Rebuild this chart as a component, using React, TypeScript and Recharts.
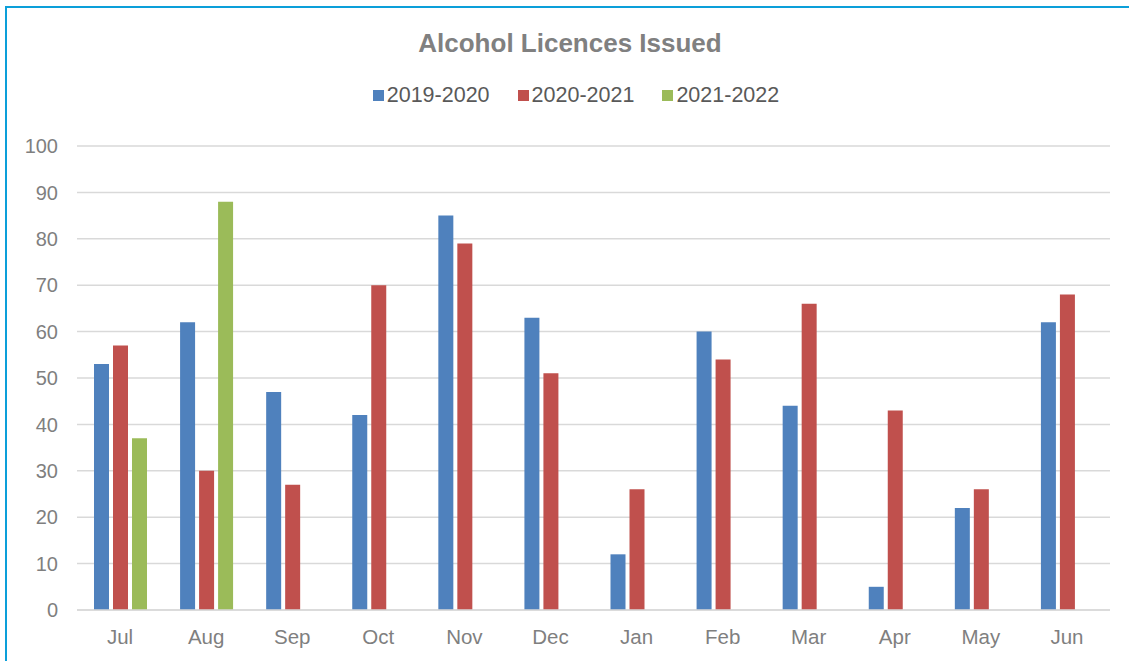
import { BarChart, Bar, XAxis, YAxis, CartesianGrid } from "recharts";

const months = ["Jul", "Aug", "Sep", "Oct", "Nov", "Dec", "Jan", "Feb", "Mar", "Apr", "May", "Jun"];
const y2019 = [53, 62, 47, 42, 85, 63, 12, 60, 44, 5, 22, 62];
const y2020 = [57, 30, 27, 70, 79, 51, 26, 54, 66, 43, 26, 68];
const y2021: (number | null)[] = [37, 88, null, null, null, null, null, null, null, null, null, null];
const yTicks = [0, 10, 20, 30, 40, 50, 60, 70, 80, 90, 100];

const seriesList = [
    { key: "s2019", name: "2019-2020", color: "#4f81bd" },
    { key: "s2020", name: "2020-2021", color: "#c0504d" },
    { key: "s2021", name: "2021-2022", color: "#9bbb59" },
];

const FONT = "'Liberation Sans', Arial, sans-serif";

// legend centred under the title
function LegendBox() {
    return (
        <div style={{ display: "flex", justifyContent: "center", gap: 28, fontFamily: FONT, fontSize: 21.5, color: "#595959", lineHeight: "24px" }}>
            {seriesList.map(s => (
                <div key={s.key} style={{ display: "flex", alignItems: "center" }}>
                    <span style={{ width: 11, height: 11, background: s.color, display: "inline-block", marginRight: 3, marginTop: 1 }} />
                    <span>{s.name}</span>
                </div>
            ))}
        </div>
    );
}

export default function App() {
    const data = months.map((m, i) => ({
        month: m,
        s2019: y2019[i],
        s2020: y2020[i],
        s2021: y2021[i],
    }));

    return (
        <div style={{ position: "fixed", left: 0, top: 0, width: 1129, height: 661, background: "#fff", overflow: "hidden" }}>
            <div style={{ position: "absolute", left: 5, top: 6, width: 1140, height: 680, borderTop: "2px solid #0c9fd9", borderLeft: "2px solid #0c9fd9" }} />
            <div style={{ position: "absolute", left: 0, top: 28, width: 1140, textAlign: "center", fontFamily: FONT, fontSize: 26, fontWeight: "bold", color: "#808080" }}>
                Alcohol Licences Issued
            </div>
            <div style={{ position: "absolute", left: 0, top: 83, width: 1152 }}>
                <LegendBox />
            </div>
            <div style={{ position: "absolute", left: 0, top: 0 }}>
                <BarChart
                    width={1129}
                    height={661}
                    data={data}
                    margin={{ top: 146, right: 19, left: 0, bottom: 21 }}
                    barSize={15}
                    barGap={4}
                >
                    <CartesianGrid vertical={false} stroke="#d9d9d9" strokeWidth={1.5} />
                    <XAxis
                        dataKey="month"
                        height={30}
                        tickLine={false}
                        axisLine={{ stroke: "#d9d9d9", strokeWidth: 1.5 }}
                        tick={{ fill: "#7f7f7f", fontSize: 20.5, fontFamily: FONT }}
                        tickMargin={13}
                        interval={0}
                    />
                    <YAxis
                        width={77}
                        domain={[0, 100]}
                        ticks={yTicks}
                        tickLine={false}
                        axisLine={false}
                        tickSize={0}
                        tickMargin={19}
                        tick={{ fill: "#7f7f7f", fontSize: 20, fontFamily: FONT }}
                        interval={0}
                    />
                    {seriesList.map(s => (
                        <Bar key={s.key} dataKey={s.key} name={s.name} fill={s.color} isAnimationActive={false} />
                    ))}
                </BarChart>
            </div>
        </div>
    );
}
